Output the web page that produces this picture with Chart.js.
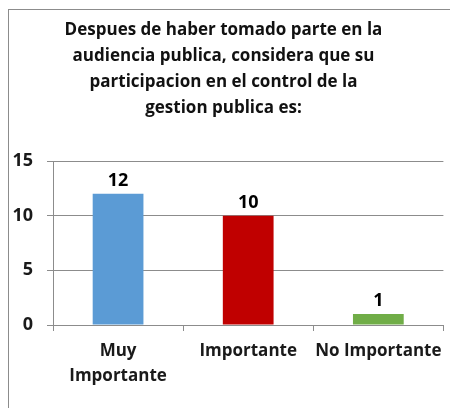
<!DOCTYPE html>
<html>
<head>
<meta charset="utf-8">
<script src="https://cdn.jsdelivr.net/npm/chart.js@4/dist/chart.umd.min.js"></script>
<style>
    html, body { margin: 0; padding: 0; background: #fff; overflow: hidden; }
    #frame { position: absolute; left: 8px; top: 9px; width: 500px; height: 500px; border: 1px solid #8c8c8c; }
    #myChart { position: absolute; left: 0; top: 0; }
</style>
</head>
<body>
<div id="frame"></div>
<canvas id="myChart" width="450" height="408"></canvas>
<script>
var titleLines = [
    "Despues de haber tomado parte en la",
    "audiencia publica, considera que su",
    "participacion en el control de la",
    "gestion publica es:"
];
var categories = [["Muy", "Importante"], "Importante", "No Importante"];
var values = [12, 10, 1];
var barColors = ["#5B9BD5", "#C00000", "#70AD47"];
var yTicks = [0, 5, 10, 15];

var fontName = "'Open Sans'";
var gridGray = "#8c8c8c";

// numbers on top of the bars
var barLabels = {
    id: 'barLabels',
    afterDatasetsDraw: function (chart) {
        var ctx = chart.ctx;
        var meta = chart.getDatasetMeta(0);
        ctx.save();
        ctx.font = "bold 18px " + fontName;
        ctx.fillStyle = "#000";
        ctx.textAlign = "center";
        ctx.textBaseline = "middle";
        meta.data.forEach(function (bar, i) {
            ctx.fillText(values[i], bar.x, bar.y - 13);
        });
        ctx.restore();
    }
};

function drawChart() {
    var ctx = document.getElementById("myChart");

    var dataConfig = {
        labels: categories,
        datasets: [{
            data: values,
            backgroundColor: barColors,
            borderWidth: 0,
            categoryPercentage: 1,
            barPercentage: 0.39
        }]
    };

    var options = {
        responsive: false,
        animation: false,
        layout: { padding: { left: 0, right: 3, top: 0, bottom: 0 } },
        plugins: {
            legend: { display: false },
            tooltip: { enabled: false },
            title: {
                display: true,
                text: titleLines,
                color: "#111",
                font: { family: fontName, size: 17, weight: "bold", lineHeight: 26 / 17 },
                padding: { top: 17.5, bottom: 39.5 }
            }
        },
        scales: {
            x: {
                grid: { drawOnChartArea: false, color: gridGray, tickLength: 6 },
                border: { color: gridGray },
                ticks: {
                    color: "#1a1a1a",
                    padding: 8,
                    maxRotation: 0,
                    font: { family: fontName, size: 17, weight: "bold", lineHeight: 25 / 17 }
                },
                afterFit: function (scale) { scale.height = 83; }
            },
            y: {
                min: 0,
                max: 15,
                afterBuildTicks: function (scale) {
                    scale.ticks = yTicks.map(function (v) { return { value: v }; });
                },
                grid: { color: gridGray, tickLength: 6 },
                border: { color: gridGray },
                ticks: {
                    color: "#1a1a1a",
                    padding: 14,
                    font: { family: fontName, size: 18, weight: "bold" }
                },
                afterFit: function (scale) { scale.width = 53; }
            }
        }
    };

    new Chart(ctx, {
        type: 'bar',
        data: dataConfig,
        options: options,
        plugins: [barLabels]
    });
}

drawChart();
</script>
</body>
</html>
